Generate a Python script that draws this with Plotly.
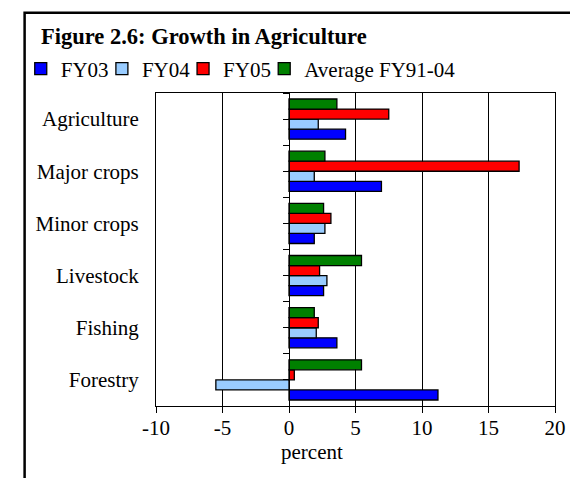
import plotly.graph_objects as go

categories = ["Forestry", "Fishing", "Livestock", "Minor crops", "Major crops", "Agriculture"]
fy03 = [11.2, 3.6, 2.6, 1.9, 6.95, 4.25]
fy04 = [-5.5, 2.05, 2.85, 2.7, 1.9, 2.2]
fy05 = [0.4, 2.2, 2.3, 3.15, 17.3, 7.5]
avg_fy91_04 = [5.45, 1.9, 5.45, 2.6, 2.7, 3.6]
series_names = ["FY03", "FY04", "FY05", "Average FY91-04"]
series_colors = ["#0000FF", "#99CCFF", "#FF0000", "#008000"]
x_ticks = [-10, -5, 0, 5, 10, 15, 20]

FONT = "Liberation Serif"
OFF = 8  # page body margin
W, H = 570, 470
ML, MR, MT, MB = 140, 17, 85, 72
PW, PH = W - ML - MR, H - MT - MB


def px(xs):
    # screen x -> paper x
    return (xs - OFF - ML) / PW


def py(ys):
    # screen y -> paper y
    return (H - MB - (ys - OFF)) / PH


fig = go.Figure()
legend_keys = ["legend", "legend2", "legend3", "legend4"]
for name, vals, col, lk in zip(series_names, [fy03, fy04, fy05, avg_fy91_04], series_colors, legend_keys):
    fig.add_trace(go.Bar(
        y=categories, x=vals, name=name, orientation="h",
        marker=dict(color=col, line=dict(color="black", width=1.3)),
        legend=lk,
    ))

# invisible trace to host the axis drawn at x = 0
fig.add_trace(go.Scatter(x=[None], y=[None], yaxis="y2", showlegend=False,
                         hoverinfo="skip", mode="markers"))

# screen x of legend boxes (square sits ~14px inside, text ~40px inside)
legend_x_screen = [8, 92, 176, 260]
legend_common = dict(orientation="h", yanchor="middle", xanchor="left",
                     bgcolor="rgba(0,0,0,0)", borderwidth=0,
                     font=dict(family=FONT, size=21, color="black"))
legends = {}
for lk, lx in zip(legend_keys, legend_x_screen):
    legends[lk] = dict(x=px(lx), y=py(69), **legend_common)

fig.update_layout(
    width=W, height=H,
    margin=dict(l=ML, r=MR, t=MT, b=MB),
    paper_bgcolor="white", plot_bgcolor="white",
    barmode="group", bargap=0.23, bargroupgap=0,
    font=dict(family=FONT, size=21, color="black"),
    xaxis=dict(
        range=[-10, 20], tickvals=x_ticks, ticktext=[str(v) for v in x_ticks],
        showgrid=True, gridcolor="black", gridwidth=1,
        zeroline=True, zerolinecolor="black", zerolinewidth=1,
        showline=True, linecolor="black", linewidth=1, mirror=True,
        ticks="outside", ticklen=6, tickcolor="black", tickwidth=1,
        ticklabelstandoff=-3,
        tickfont=dict(family=FONT, size=21, color="black"),
    ),
    yaxis=dict(
        type="category", categoryorder="array", categoryarray=categories,
        range=[-0.5, 5.5],
        showgrid=False, zeroline=False,
        showline=True, linecolor="black", linewidth=1, mirror=True,
        ticks="outside", ticklen=12, tickcolor="rgba(0,0,0,0)",
        tickfont=dict(family=FONT, size=21, color="black"),
    ),
    yaxis2=dict(
        overlaying="y", anchor="free", position=10 / 30,
        range=[-0.5, 5.5], tickvals=[i * 0.5 - 0.5 for i in range(13)],
        showticklabels=False, showgrid=False, zeroline=False,
        showline=True, linecolor="black", linewidth=1,
        ticks="outside", ticklen=6, tickcolor="black", tickwidth=1,
    ),
    annotations=[
        dict(text="<b>Figure 2.6: Growth in Agriculture</b>", xref="paper", yref="paper",
             x=px(27), y=py(37), xanchor="left", yanchor="middle", showarrow=False,
             font=dict(family=FONT, size=22.5, color="black")),
        dict(text="percent", xref="paper", yref="paper",
             x=px(309), y=py(452), xanchor="center", yanchor="middle", showarrow=False,
             font=dict(family=FONT, size=21, color="black")),
    ],
    shapes=[
        dict(type="rect", xref="paper", yref="paper",
             x0=px(12), y0=py(H + 40), x1=px(W + 40), y1=py(12.8),
             line=dict(color="black", width=2.5), fillcolor="rgba(0,0,0,0)", layer="above"),
    ],
    **legends,
)

fig.write_html("out.html")
